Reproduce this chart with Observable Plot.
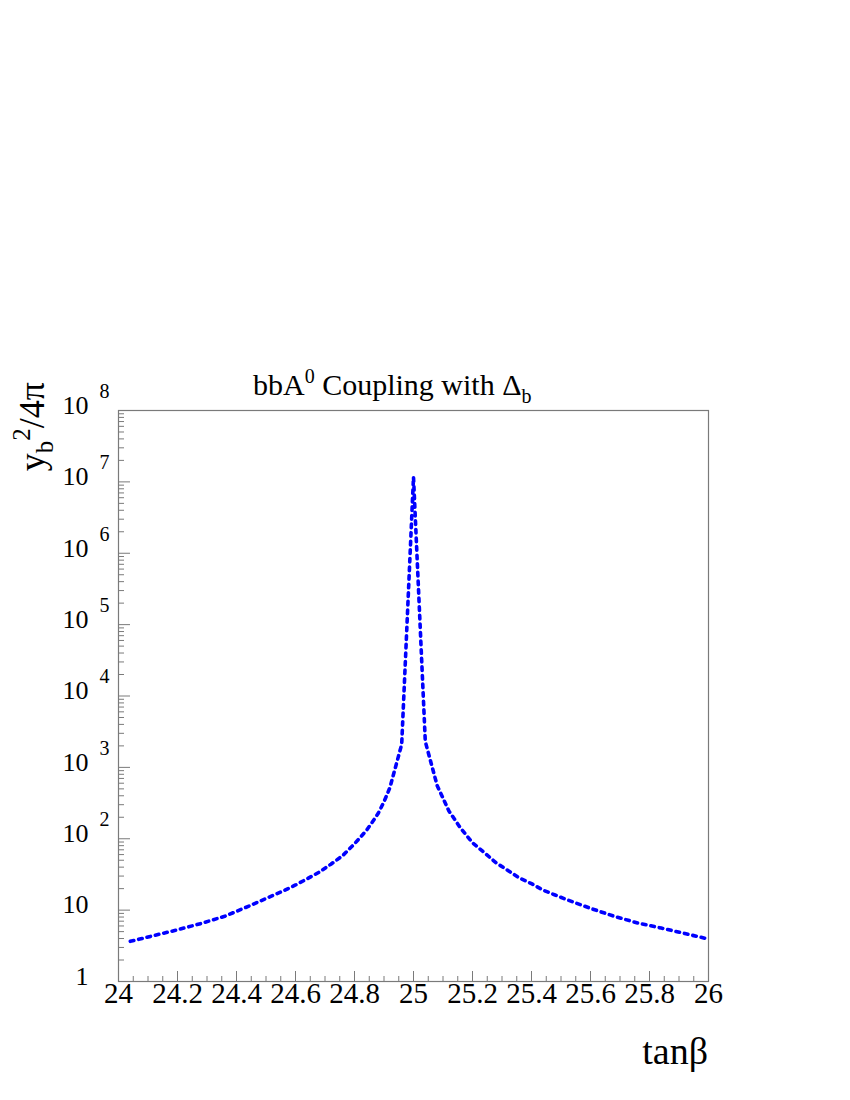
<!DOCTYPE html>
<html>
<head>
<meta charset="utf-8">
<script src="https://cdn.jsdelivr.net/npm/d3@7"></script>
<script src="https://cdn.jsdelivr.net/npm/@observablehq/plot@0.6"></script>
<style>
  body { margin: 0; background: #fff; }
  #chart svg { display: block; }
</style>
</head>
<body>
<div id="chart"></div>
<script>
// tanβ sample points
const tanBeta = [24.04, 24.12, 24.20, 24.28, 24.36, 24.44, 24.52, 24.56, 24.60, 24.64,
                 24.68, 24.72, 24.76, 24.80, 24.84, 24.86, 24.88, 24.90, 24.92, 24.96,
                 25.00, 25.04, 25.08, 25.12, 25.16, 25.20, 25.24, 25.28, 25.32, 25.36,
                 25.40, 25.44, 25.48, 25.52, 25.60, 25.68, 25.76, 25.84, 25.92, 26.00];
// y_b^2/4π values
const coupling = [3.65, 4.4, 5.3, 6.5, 8.2, 11.3, 15.8, 18.7, 22.5, 27.5,
                  34, 44, 58, 85, 130, 170, 225, 330, 520, 2100,
                  1.17e7, 2300, 560, 245, 140, 88, 64, 46, 36, 28,
                  23.5, 19, 16.3, 14, 10.6, 8.2, 6.6, 5.6, 4.7, 3.93];

// x axis ticks and labels
const xMajorTicks = [24, 24.2, 24.4, 24.6, 24.8, 25, 25.2, 25.4, 25.6, 25.8, 26];
const xTickLabels = ["24", "24.2", "24.4", "24.6", "24.8", "25", "25.2", "25.4", "25.6", "25.8", "26"];
const xMinorTicks = [24.05, 24.1, 24.15, 24.25, 24.3, 24.35, 24.45, 24.5, 24.55, 24.65, 24.7, 24.75,
                     24.85, 24.9, 24.95, 25.05, 25.1, 25.15, 25.25, 25.3, 25.35, 25.45, 25.5, 25.55,
                     25.65, 25.7, 25.75, 25.85, 25.9, 25.95];

// y axis (log) ticks and labels
const yDecades = [1, 10, 1e2, 1e3, 1e4, 1e5, 1e6, 1e7, 1e8];
const yMantissa = ["1", "10", "10", "10", "10", "10", "10", "10", "10"];
const yExponent = ["", "", "2", "3", "4", "5", "6", "7", "8"];
const yMinorTicks = yDecades.slice(0, -1).flatMap(d => [2, 3, 4, 5, 6, 7, 8, 9].map(k => d * k));

const W = 850, H = 1100;
const mTop = 410, mRight = 142, mBottom = 119, mLeft = 118;
const FW = W - mLeft - mRight, FH = H - mTop - mBottom;
const axisColor = "#7a7a7a";

const data = tanBeta.map((t, i) => ({t, v: coupling[i]}));
const yLab = yDecades.map((d, i) => ({d, m: yMantissa[i], e: yExponent[i]}));
const xLab = xMajorTicks.map((d, i) => ({d, s: xTickLabels[i]}));

const chart = Plot.plot({
  width: W, height: H,
  marginTop: mTop, marginRight: mRight, marginBottom: mBottom, marginLeft: mLeft,
  style: {fontFamily: "'Liberation Serif', 'Times New Roman', serif", background: "#fff", color: "#000"},
  x: {domain: [24, 26], axis: null},
  y: {type: "log", domain: [1, 1e8], axis: null},
  marks: [
    Plot.frame({stroke: axisColor, strokeWidth: 1.2}),
    Plot.tickX(xMajorTicks, {x: d => d, stroke: axisColor, insetTop: FH - 10}),
    Plot.tickX(xMinorTicks, {x: d => d, stroke: axisColor, insetTop: FH - 5}),
    Plot.tickY(yDecades, {y: d => d, stroke: axisColor, insetRight: FW - 12}),
    Plot.tickY(yMinorTicks, {y: d => d, stroke: axisColor, insetRight: FW - 6}),
    Plot.text(xLab, {x: "d", text: "s", frameAnchor: "bottom", dy: 21, fontSize: 29, fill: "#000"}),
    Plot.text(yLab, {y: "d", text: "m", frameAnchor: "left", dx: -30, dy: -5, textAnchor: "end", fontSize: 26, fill: "#000"}),
    Plot.text(yLab.filter(d => d.e), {y: "d", text: "e", frameAnchor: "left", dx: -19, dy: -19, textAnchor: "start", fontSize: 20, fill: "#000"}),
    Plot.line(data, {x: "t", y: "v", stroke: "#0000ff", strokeWidth: 3.6, strokeDasharray: "3.6,5"})
  ]
});

document.getElementById("chart").appendChild(chart);

// Rich-text title and axis labels (sub/superscripts) added into the SVG
const svg = d3.select(chart);
const font = "'Liberation Serif', 'Times New Roman', serif";

const title = svg.append("text")
  .attr("x", 253).attr("y", 395)
  .attr("text-anchor", "start")
  .attr("font-family", font).attr("font-size", 30).attr("fill", "#000");
title.append("tspan").text("bbA");
title.append("tspan").attr("dy", -12).attr("font-size", 20).text("0");
title.append("tspan").attr("dy", 12).text(" Coupling with Δ");
title.append("tspan").attr("dy", 8).attr("font-size", 20).text("b");

const ylab = svg.append("text")
  .attr("transform", "translate(44,382) rotate(-90)")
  .attr("text-anchor", "end")
  .attr("font-family", font).attr("font-size", 36).attr("fill", "#000");
ylab.append("tspan").text("y");
ylab.append("tspan").attr("dy", 9).attr("font-size", 25).text("b");
ylab.append("tspan").attr("dy", -23).attr("font-size", 25).text("2");
ylab.append("tspan").attr("dy", 14).text("/4π");

svg.append("text")
  .attr("x", 708).attr("y", 1064)
  .attr("text-anchor", "end")
  .attr("font-family", font).attr("font-size", 38).attr("fill", "#000")
  .text("tanβ");
</script>
</body>
</html>
